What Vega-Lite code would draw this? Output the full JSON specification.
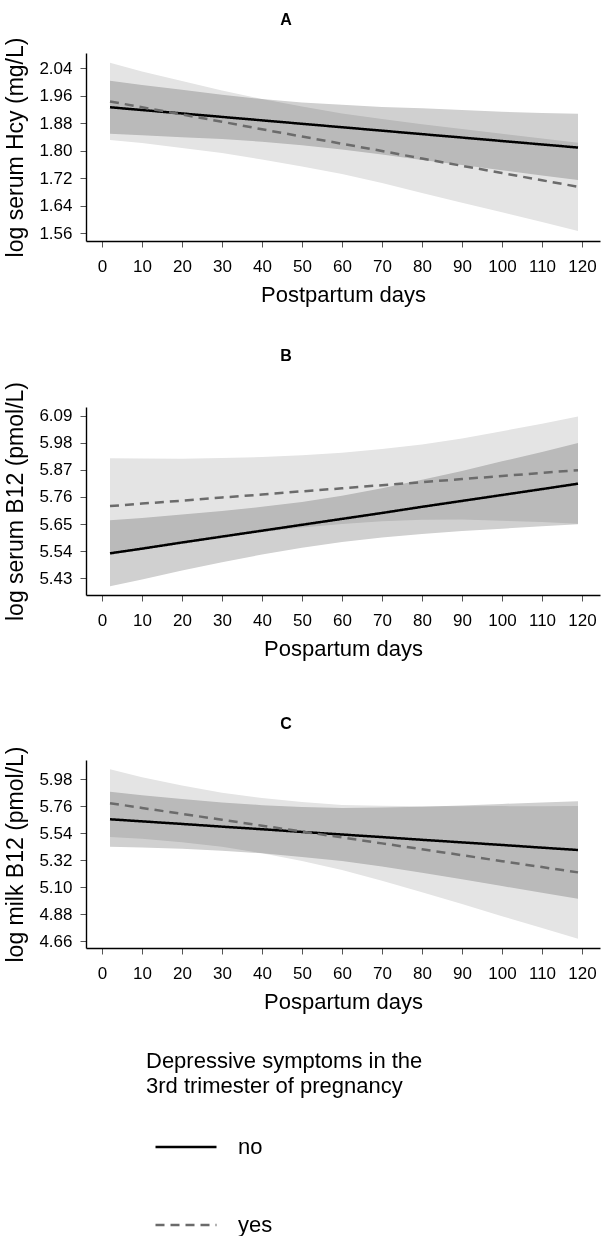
{
  "$schema": "https://vega.github.io/schema/vega-lite/v6.json",
  "padding": {"left": 4, "top": 12, "right": 2, "bottom": 0},
  "background": "white",
  "config": {
    "font": "Liberation Sans",
    "view": {"stroke": null},
    "axis": {"grid": false, "domainColor": "#000000", "domainWidth": 1.4, "tickColor": "#555555", "tickWidth": 1, "tickSize": 6, "labelFontSize": 17, "labelColor": "#000000", "titleFontSize": 22, "titleFontWeight": "normal", "titleColor": "#000000", "labelOverlap": false},
    "axisX": {"labelPadding": 11, "titlePadding": 10, "labelFlush": false},
    "axisY": {"labelPadding": 8, "titlePadding": 11, "titleFontSize": 23},
    "title": {"fontSize": 16, "fontWeight": "bold", "color": "#000000"},
    "legend": {"orient": "none", "legendX": 60, "legendY": 998, "titleFontSize": 22, "titleFontWeight": "normal", "titleColor": "#000000", "titleLineHeight": 25, "titlePadding": 17, "titleAlign": "left", "titleAnchor": "start", "titleLimit": 0, "labelLimit": 0, "labelFontSize": 22, "labelColor": "#000000", "symbolType": "stroke", "symbolSize": 3721, "symbolStrokeWidth": 2.5, "rowPadding": 35, "labelOffset": 20, "symbolOffset": 8}
  },
  "datasets": {
    "A": [
      {"g": "no", "d": 2, "fit": 1.926, "lo": 1.849, "hi": 2.003},
      {"g": "no", "d": 10, "fit": 1.918, "lo": 1.845, "hi": 1.991},
      {"g": "no", "d": 20, "fit": 1.908, "lo": 1.839, "hi": 1.977},
      {"g": "no", "d": 30, "fit": 1.898, "lo": 1.834, "hi": 1.962},
      {"g": "no", "d": 40, "fit": 1.888, "lo": 1.826, "hi": 1.950},
      {"g": "no", "d": 50, "fit": 1.878, "lo": 1.816, "hi": 1.940},
      {"g": "no", "d": 60, "fit": 1.868, "lo": 1.803, "hi": 1.933},
      {"g": "no", "d": 70, "fit": 1.858, "lo": 1.789, "hi": 1.927},
      {"g": "no", "d": 80, "fit": 1.848, "lo": 1.773, "hi": 1.923},
      {"g": "no", "d": 90, "fit": 1.838, "lo": 1.758, "hi": 1.918},
      {"g": "no", "d": 100, "fit": 1.828, "lo": 1.743, "hi": 1.913},
      {"g": "no", "d": 110, "fit": 1.818, "lo": 1.728, "hi": 1.909},
      {"g": "no", "d": 119, "fit": 1.809, "lo": 1.715, "hi": 1.907},
      {"g": "yes", "d": 2, "fit": 1.943, "lo": 1.831, "hi": 2.055},
      {"g": "yes", "d": 10, "fit": 1.926, "lo": 1.822, "hi": 2.030},
      {"g": "yes", "d": 20, "fit": 1.905, "lo": 1.808, "hi": 2.002},
      {"g": "yes", "d": 30, "fit": 1.884, "lo": 1.793, "hi": 1.975},
      {"g": "yes", "d": 40, "fit": 1.862, "lo": 1.774, "hi": 1.950},
      {"g": "yes", "d": 50, "fit": 1.841, "lo": 1.754, "hi": 1.928},
      {"g": "yes", "d": 60, "fit": 1.820, "lo": 1.732, "hi": 1.908},
      {"g": "yes", "d": 70, "fit": 1.799, "lo": 1.706, "hi": 1.892},
      {"g": "yes", "d": 80, "fit": 1.777, "lo": 1.677, "hi": 1.877},
      {"g": "yes", "d": 90, "fit": 1.756, "lo": 1.649, "hi": 1.863},
      {"g": "yes", "d": 100, "fit": 1.735, "lo": 1.621, "hi": 1.849},
      {"g": "yes", "d": 110, "fit": 1.714, "lo": 1.593, "hi": 1.835},
      {"g": "yes", "d": 119, "fit": 1.695, "lo": 1.567, "hi": 1.823}
    ],
    "B": [
      {"g": "no", "d": 2, "fit": 5.531, "lo": 5.397, "hi": 5.665},
      {"g": "no", "d": 10, "fit": 5.550, "lo": 5.425, "hi": 5.675},
      {"g": "no", "d": 20, "fit": 5.575, "lo": 5.461, "hi": 5.689},
      {"g": "no", "d": 30, "fit": 5.599, "lo": 5.495, "hi": 5.703},
      {"g": "no", "d": 40, "fit": 5.623, "lo": 5.526, "hi": 5.720},
      {"g": "no", "d": 50, "fit": 5.647, "lo": 5.554, "hi": 5.740},
      {"g": "no", "d": 60, "fit": 5.671, "lo": 5.577, "hi": 5.765},
      {"g": "no", "d": 70, "fit": 5.695, "lo": 5.595, "hi": 5.795},
      {"g": "no", "d": 80, "fit": 5.720, "lo": 5.610, "hi": 5.830},
      {"g": "no", "d": 90, "fit": 5.744, "lo": 5.622, "hi": 5.866},
      {"g": "no", "d": 100, "fit": 5.768, "lo": 5.631, "hi": 5.905},
      {"g": "no", "d": 110, "fit": 5.792, "lo": 5.641, "hi": 5.943},
      {"g": "no", "d": 119, "fit": 5.814, "lo": 5.649, "hi": 5.979},
      {"g": "yes", "d": 2, "fit": 5.723, "lo": 5.529, "hi": 5.917},
      {"g": "yes", "d": 10, "fit": 5.733, "lo": 5.550, "hi": 5.916},
      {"g": "yes", "d": 20, "fit": 5.745, "lo": 5.575, "hi": 5.915},
      {"g": "yes", "d": 30, "fit": 5.758, "lo": 5.598, "hi": 5.918},
      {"g": "yes", "d": 40, "fit": 5.770, "lo": 5.618, "hi": 5.922},
      {"g": "yes", "d": 50, "fit": 5.783, "lo": 5.636, "hi": 5.930},
      {"g": "yes", "d": 60, "fit": 5.795, "lo": 5.650, "hi": 5.940},
      {"g": "yes", "d": 70, "fit": 5.808, "lo": 5.661, "hi": 5.955},
      {"g": "yes", "d": 80, "fit": 5.820, "lo": 5.667, "hi": 5.973},
      {"g": "yes", "d": 90, "fit": 5.833, "lo": 5.668, "hi": 5.998},
      {"g": "yes", "d": 100, "fit": 5.845, "lo": 5.663, "hi": 6.027},
      {"g": "yes", "d": 110, "fit": 5.858, "lo": 5.658, "hi": 6.058},
      {"g": "yes", "d": 119, "fit": 5.869, "lo": 5.651, "hi": 6.087}
    ],
    "C": [
      {"g": "no", "d": 2, "fit": 5.653, "lo": 5.429, "hi": 5.877},
      {"g": "no", "d": 10, "fit": 5.636, "lo": 5.424, "hi": 5.848},
      {"g": "no", "d": 20, "fit": 5.615, "lo": 5.413, "hi": 5.817},
      {"g": "no", "d": 30, "fit": 5.593, "lo": 5.397, "hi": 5.789},
      {"g": "no", "d": 40, "fit": 5.572, "lo": 5.376, "hi": 5.768},
      {"g": "no", "d": 50, "fit": 5.550, "lo": 5.347, "hi": 5.753},
      {"g": "no", "d": 60, "fit": 5.529, "lo": 5.313, "hi": 5.745},
      {"g": "no", "d": 70, "fit": 5.508, "lo": 5.268, "hi": 5.748},
      {"g": "no", "d": 80, "fit": 5.486, "lo": 5.218, "hi": 5.754},
      {"g": "no", "d": 90, "fit": 5.465, "lo": 5.165, "hi": 5.765},
      {"g": "no", "d": 100, "fit": 5.444, "lo": 5.110, "hi": 5.778},
      {"g": "no", "d": 110, "fit": 5.422, "lo": 5.055, "hi": 5.789},
      {"g": "no", "d": 119, "fit": 5.403, "lo": 5.007, "hi": 5.799},
      {"g": "yes", "d": 2, "fit": 5.784, "lo": 5.509, "hi": 6.059},
      {"g": "yes", "d": 10, "fit": 5.745, "lo": 5.495, "hi": 5.995},
      {"g": "yes", "d": 20, "fit": 5.697, "lo": 5.467, "hi": 5.927},
      {"g": "yes", "d": 30, "fit": 5.649, "lo": 5.429, "hi": 5.869},
      {"g": "yes", "d": 40, "fit": 5.601, "lo": 5.376, "hi": 5.826},
      {"g": "yes", "d": 50, "fit": 5.553, "lo": 5.313, "hi": 5.793},
      {"g": "yes", "d": 60, "fit": 5.505, "lo": 5.240, "hi": 5.770},
      {"g": "yes", "d": 70, "fit": 5.457, "lo": 5.152, "hi": 5.762},
      {"g": "yes", "d": 80, "fit": 5.409, "lo": 5.059, "hi": 5.759},
      {"g": "yes", "d": 90, "fit": 5.361, "lo": 4.963, "hi": 5.759},
      {"g": "yes", "d": 100, "fit": 5.312, "lo": 4.864, "hi": 5.760},
      {"g": "yes", "d": 110, "fit": 5.264, "lo": 4.769, "hi": 5.759},
      {"g": "yes", "d": 119, "fit": 5.221, "lo": 4.682, "hi": 5.760}
    ]
  },
  "resolve": {"scale": {"color": "shared", "strokeDash": "shared"}, "legend": {"color": "shared", "strokeDash": "shared"}},
  "spacing": 56,
  "vconcat": [
    {
      "resolve": {"scale": {"color": "shared", "strokeDash": "shared"}, "legend": {"color": "shared", "strokeDash": "shared"}},
      "spacing": 43,
      "vconcat": [
        {
          "width": 514, "height": 188,
          "title": {"text": "A", "dx": -57, "offset": 9},
          "data": {"name": "A"},
          "encoding": {"x": {"field": "d", "type": "quantitative", "scale": {"domain": [-4, 124.5], "nice": false, "zero": false}, "axis": {"values": [0, 10, 20, 30, 40, 50, 60, 70, 80, 90, 100, 110, 120], "tickCount": 20, "title": "Postpartum days"}}},
          "layer": [
            {"transform": [{"filter": "datum.g === 'yes'"}], "mark": {"type": "area", "color": "#e4e4e4"},
             "encoding": {"y": {"field": "lo", "type": "quantitative", "scale": {"domain": [1.5376, 2.0836], "nice": false, "zero": false}, "axis": {"values": [1.56, 1.64, 1.72, 1.80, 1.88, 1.96, 2.04], "tickCount": 10, "format": ".2f", "labelOverlap": false, "title": "log serum Hcy (mg/L)"}}, "y2": {"field": "hi"}}},
            {"transform": [{"filter": "datum.g === 'no'"}], "mark": {"type": "area", "color": "#d0d0d0", "blend": "multiply"},
             "encoding": {"y": {"field": "lo", "type": "quantitative"}, "y2": {"field": "hi"}}},
            {"mark": {"type": "line", "strokeWidth": 2.5},
             "encoding": {"y": {"field": "fit", "type": "quantitative"},
               "color": {"field": "g", "type": "nominal", "scale": {"domain": ["no", "yes"], "range": ["#000000", "#6b6b6b"]}, "legend": {"title": ["Depressive symptoms in the", "3rd trimester of pregnancy"]}},
               "strokeDash": {"field": "g", "type": "nominal", "scale": {"domain": ["no", "yes"], "range": [[1, 0], [9, 6]]}, "legend": {"title": ["Depressive symptoms in the", "3rd trimester of pregnancy"]}}}}
          ]
        },
        {
          "width": 514, "height": 188,
          "title": {"text": "B", "dx": -57, "offset": 17},
          "data": {"name": "B"},
          "encoding": {"x": {"field": "d", "type": "quantitative", "scale": {"domain": [-4, 124.5], "nice": false, "zero": false}, "axis": {"values": [0, 10, 20, 30, 40, 50, 60, 70, 80, 90, 100, 110, 120], "tickCount": 20, "title": "Pospartum days"}}},
          "layer": [
            {"transform": [{"filter": "datum.g === 'yes'"}], "mark": {"type": "area", "color": "#e4e4e4"},
             "encoding": {"y": {"field": "lo", "type": "quantitative", "scale": {"domain": [5.3617, 6.1256], "nice": false, "zero": false}, "axis": {"values": [5.43, 5.54, 5.65, 5.76, 5.87, 5.98, 6.09], "tickCount": 10, "format": ".2f", "labelOverlap": false, "title": "log serum B12 (pmol/L)"}}, "y2": {"field": "hi"}}},
            {"transform": [{"filter": "datum.g === 'no'"}], "mark": {"type": "area", "color": "#d0d0d0", "blend": "multiply"},
             "encoding": {"y": {"field": "lo", "type": "quantitative"}, "y2": {"field": "hi"}}},
            {"mark": {"type": "line", "strokeWidth": 2.5},
             "encoding": {"y": {"field": "fit", "type": "quantitative"},
               "color": {"field": "g", "type": "nominal", "scale": {"domain": ["no", "yes"], "range": ["#000000", "#6b6b6b"]}, "legend": {"title": ["Depressive symptoms in the", "3rd trimester of pregnancy"]}},
               "strokeDash": {"field": "g", "type": "nominal", "scale": {"domain": ["no", "yes"], "range": [[1, 0], [9, 6]]}, "legend": {"title": ["Depressive symptoms in the", "3rd trimester of pregnancy"]}}}}
          ]
        }
      ]
    },
    {
      "width": 514, "height": 188,
      "title": {"text": "C", "dx": -57, "offset": 14},
      "data": {"name": "C"},
      "encoding": {"x": {"field": "d", "type": "quantitative", "scale": {"domain": [-4, 124.5], "nice": false, "zero": false}, "axis": {"values": [0, 10, 20, 30, 40, 50, 60, 70, 80, 90, 100, 110, 120], "tickCount": 20, "title": "Pospartum days"}}},
      "layer": [
        {"transform": [{"filter": "datum.g === 'yes'"}], "mark": {"type": "area", "color": "#e4e4e4"},
         "encoding": {"y": {"field": "lo", "type": "quantitative", "scale": {"domain": [4.606, 6.135], "nice": false, "zero": false}, "axis": {"values": [4.66, 4.88, 5.10, 5.32, 5.54, 5.76, 5.98], "tickCount": 10, "format": ".2f", "labelOverlap": false, "title": "log milk B12 (pmol/L)"}}, "y2": {"field": "hi"}}},
        {"transform": [{"filter": "datum.g === 'no'"}], "mark": {"type": "area", "color": "#d0d0d0", "blend": "multiply"},
         "encoding": {"y": {"field": "lo", "type": "quantitative"}, "y2": {"field": "hi"}}},
        {"mark": {"type": "line", "strokeWidth": 2.5},
         "encoding": {"y": {"field": "fit", "type": "quantitative"},
           "color": {"field": "g", "type": "nominal", "scale": {"domain": ["no", "yes"], "range": ["#000000", "#6b6b6b"]}, "legend": {"title": ["Depressive symptoms in the", "3rd trimester of pregnancy"]}},
           "strokeDash": {"field": "g", "type": "nominal", "scale": {"domain": ["no", "yes"], "range": [[1, 0], [9, 6]]}, "legend": {"title": ["Depressive symptoms in the", "3rd trimester of pregnancy"]}}}}
      ]
    }
  ]
}
